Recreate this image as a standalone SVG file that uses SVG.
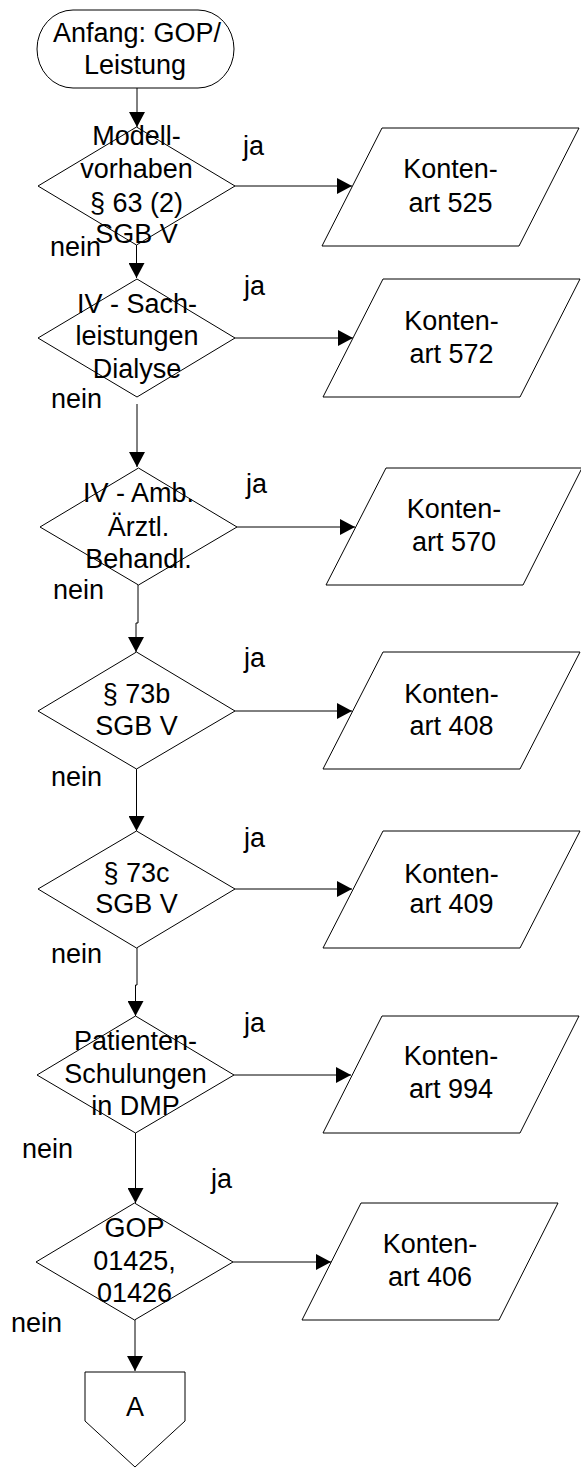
<svg xmlns="http://www.w3.org/2000/svg" width="581" height="1468" viewBox="0 0 581 1468">
<style>
.s{fill:#fff;stroke:#000;stroke-width:1}
.t{font-family:"Liberation Sans",Arial,sans-serif;font-size:27px;fill:#000;text-anchor:middle}
.l{font-family:"Liberation Sans",Arial,sans-serif;font-size:27px;fill:#000}
.c{fill:none;stroke:#000;stroke-width:1}
</style>
<defs>
<marker id="ah" markerUnits="userSpaceOnUse" markerWidth="16" markerHeight="16" viewBox="0 0 15 16" refX="15" refY="8" orient="auto">
<path d="M0,0 L15,8 L0,16 Z" fill="#000"/>
</marker>
</defs>
<rect width="581" height="1468" fill="#fff"/>
<g id="connectors">
<path class="c" d="M137,88 V127" marker-end="url(#ah)"/>
<path class="c" d="M136.5,245 V278" marker-end="url(#ah)"/>
<path class="c" d="M137,404 V467" marker-end="url(#ah)"/>
<path class="c" d="M138,585 V623 H136 V652" marker-end="url(#ah)"/>
<path class="c" d="M136.5,769 V831" marker-end="url(#ah)"/>
<path class="c" d="M137,948 V985 H135.5 V1016" marker-end="url(#ah)"/>
<path class="c" d="M135.5,1133 V1203" marker-end="url(#ah)"/>
<path class="c" d="M135,1320 V1371" marker-end="url(#ah)"/>
<path class="c" d="M235,186 H352" marker-end="url(#ah)"/>
<path class="c" d="M235,338 H353" marker-end="url(#ah)"/>
<path class="c" d="M237,527 H355" marker-end="url(#ah)"/>
<path class="c" d="M235,711 H352" marker-end="url(#ah)"/>
<path class="c" d="M235,889 H352" marker-end="url(#ah)"/>
<path class="c" d="M234,1075 H351" marker-end="url(#ah)"/>
<path class="c" d="M233,1262 H331" marker-end="url(#ah)"/>
</g>
<g id="start">
<rect class="s" x="37" y="10" width="197" height="78" rx="36" ry="39"/>
<text class="t" x="137" y="42">Anfang: GOP/</text>
<text class="t" x="135" y="74">Leistung</text>
</g>
<g id="d1">
<polygon class="s" points="136.5,127 235,186 136.5,245 38,186"/>
<text class="t" x="136.5" y="145">Modell-</text>
<text class="t" x="136.5" y="178">vorhaben</text>
<text class="t" x="136.5" y="212">§ 63 (2)</text>
<text class="t" x="136.5" y="243">SGB V</text>
</g>
<g id="p1">
<polygon class="s" points="382,128 579,128 519,246 322,246"/>
<text class="t" x="450.5" y="178">Konten-</text>
<text class="t" x="450.5" y="212">art 525</text>
</g>
<g id="d2">
<polygon class="s" points="137,279 235,338 137,397 38,338"/>
<text class="t" x="137" y="313">IV - Sach-</text>
<text class="t" x="137" y="345">leistungen</text>
<text class="t" x="137" y="378">Dialyse</text>
</g>
<g id="p2">
<polygon class="s" points="383,279 580,279 520,397 323,397"/>
<text class="t" x="451.5" y="330">Konten-</text>
<text class="t" x="451.5" y="363">art 572</text>
</g>
<g id="d3">
<polygon class="s" points="138.5,468 237,527 138.5,585 40,527"/>
<text class="t" x="138.5" y="502">IV - Amb.</text>
<text class="t" x="138.5" y="536">Ärztl.</text>
<text class="t" x="138.5" y="568">Behandl.</text>
</g>
<g id="p3">
<polygon class="s" points="386,468 582,468 523,585 326,585"/>
<text class="t" x="454" y="518">Konten-</text>
<text class="t" x="454" y="551">art 570</text>
</g>
<g id="d4">
<polygon class="s" points="136.5,652 235,711 136.5,769 38,711"/>
<text class="t" x="136.5" y="703">§ 73b</text>
<text class="t" x="136.5" y="735">SGB V</text>
</g>
<g id="p4">
<polygon class="s" points="383,652 580,652 520,769 323,769"/>
<text class="t" x="451.5" y="703">Konten-</text>
<text class="t" x="451.5" y="735">art 408</text>
</g>
<g id="d5">
<polygon class="s" points="136.5,831 235,889 136.5,948 38,889"/>
<text class="t" x="136.5" y="882">§ 73c</text>
<text class="t" x="136.5" y="913">SGB V</text>
</g>
<g id="p5">
<polygon class="s" points="383,831 580,831 520,948 323,948"/>
<text class="t" x="451.5" y="883">Konten-</text>
<text class="t" x="451.5" y="913">art 409</text>
</g>
<g id="d6">
<polygon class="s" points="135.5,1016 234,1075 135.5,1133 37,1075"/>
<text class="t" x="135.5" y="1050">Patienten-</text>
<text class="t" x="135.5" y="1083">Schulungen</text>
<text class="t" x="135.5" y="1115">in DMP</text>
</g>
<g id="p6">
<polygon class="s" points="382,1016 579,1016 520,1133 323,1133"/>
<text class="t" x="451" y="1065">Konten-</text>
<text class="t" x="451" y="1098">art 994</text>
</g>
<g id="d7">
<polygon class="s" points="134.5,1203 233,1262 134.5,1320 36,1262"/>
<text class="t" x="134.5" y="1237">GOP</text>
<text class="t" x="134.5" y="1270">01425,</text>
<text class="t" x="134.5" y="1302">01426</text>
</g>
<g id="p7">
<polygon class="s" points="361,1203 558,1203 499,1320 302,1320"/>
<text class="t" x="430" y="1253">Konten-</text>
<text class="t" x="430" y="1286">art 406</text>
</g>
<g id="connectorA">
<polygon class="s" points="85,1372 185,1372 185,1421 135,1467 85,1421"/>
<text class="t" x="135" y="1416">A</text>
</g>
<g id="labels">
<text class="l" x="243" y="155">ja</text>
<text class="l" x="50" y="256">nein</text>
<text class="l" x="244" y="295">ja</text>
<text class="l" x="51" y="408">nein</text>
<text class="l" x="246" y="493">ja</text>
<text class="l" x="53" y="599">nein</text>
<text class="l" x="244" y="667">ja</text>
<text class="l" x="51" y="786">nein</text>
<text class="l" x="244" y="847">ja</text>
<text class="l" x="51" y="963">nein</text>
<text class="l" x="244" y="1032">ja</text>
<text class="l" x="22" y="1158">nein</text>
<text class="l" x="211" y="1188">ja</text>
<text class="l" x="11" y="1332">nein</text>
</g>
</svg>
